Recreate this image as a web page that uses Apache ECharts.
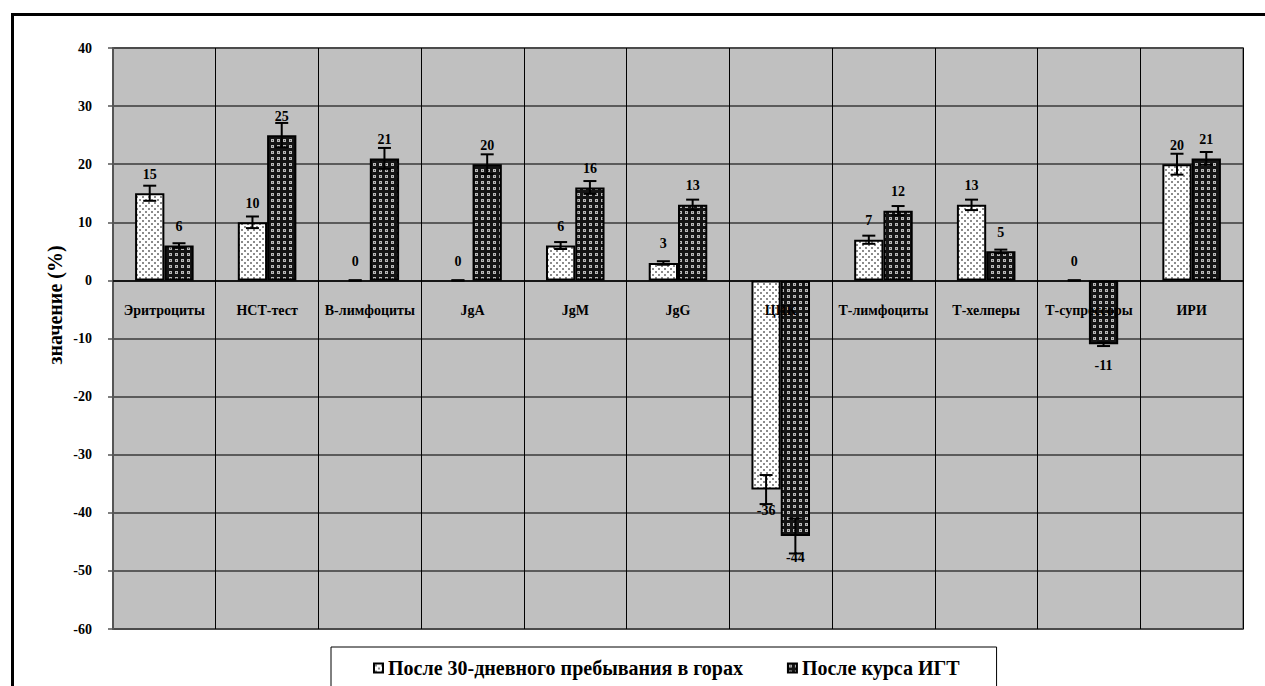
<!DOCTYPE html>
<html>
<head>
<meta charset="utf-8">
<script src="https://cdn.jsdelivr.net/npm/echarts@6/dist/echarts.min.js"></script>
<style>
html,body{margin:0;padding:0;background:#fff;}
#chart{width:1265px;height:686px;}
</style>
</head>
<body>
<div id="chart"></div>
<script>
// ---- data ----
var categories = ['Эритроциты','НСТ-тест','В-лимфоциты','JgA','JgM','JgG','ЦИК','Т-лимфоциты','Т-хелперы','Т-супрессоры','ИРИ'];
var seriesNames = ['После 30-дневного пребывания в горах','После курса ИГТ'];
var afterMountains = [15, 10, 0, 0, 6, 3, -36, 7, 13, 0, 20];
var afterMountainsErr = [1.3, 1.0, 0, 0, 0.6, 0.3, 2.5, 0.7, 0.9, 0, 1.8];
var afterIGT = [6, 25, 21, 20, 16, 13, -44, 12, 5, -11, 21];
var afterIGTErr = [0.4, 2.1, 1.8, 1.7, 1.1, 0.9, 3.0, 0.8, 0.3, 0.3, 1.1];
var yTicks = {min: -60, max: 40, interval: 10};

// ---- patterns ----
function makeTile(kind) {
  var c = document.createElement('canvas');
  c.width = 6; c.height = 6;
  var g = c.getContext('2d');
  if (kind === 'light') {
    g.fillStyle = '#ffffff'; g.fillRect(0,0,6,6);
    g.fillStyle = '#8c8c8c';
    g.fillRect(1,1,2,2); g.fillRect(4,4,2,2);
  } else {
    g.fillStyle = '#141414'; g.fillRect(0,0,6,6);
    g.fillStyle = '#b8b8b8';
    g.fillRect(1,1,3,3);
    g.fillStyle = '#505050';
    g.fillRect(2,2,1,1);
  }
  return c.toDataURL();
}
var lightPattern = {image: makeTile('light'), repeat: 'repeat'};
var darkPattern = {image: makeTile('dark'), repeat: 'repeat'};

var FONT = '"Liberation Serif", "Times New Roman", serif';
var CAT_GAP = 0.43;
var GRID = {left: 113, right: 22, top: 48, bottom: 57};
var H = 686;

function barData(vals) {
  return vals.map(function (v) {
    return v === 0 ? {value: 0, itemStyle: {borderWidth: 0}} : v;
  });
}
function errData(vals, errs) {
  return vals.map(function (v, i) { return [i, v, errs[i]]; });
}
function makeErrRender(side) {
  return function (params, api) {
    var idx = api.value(0), v = api.value(1), e = api.value(2);
    var catW = api.size([1, 0])[0];
    var barW = catW * (1 - CAT_GAP) / 2;
    var c = api.coord([idx, v]);
    var x = c[0] + side * barW / 2;
    var yHi = api.coord([idx, v + e])[1];
    var yLo = api.coord([idx, v - e])[1];
    var cap = 6.5;
    var ls = {stroke: '#000', lineWidth: 2};
    var labelY = v >= 0 ? c[1] - 19 : c[1] + 21;
    return {
      type: 'group',
      children: [
        {type: 'line', shape: {x1: x, y1: yHi, x2: x, y2: yLo}, style: ls},
        {type: 'line', shape: {x1: x - cap, y1: yHi, x2: x + cap, y2: yHi}, style: ls},
        {type: 'line', shape: {x1: x - cap, y1: yLo, x2: x + cap, y2: yLo}, style: ls},
        {type: 'text', z2: 10, style: {text: String(v), x: x, y: labelY, align: 'center', verticalAlign: 'middle',
          fill: '#000', fontSize: 14, fontWeight: 'bold', fontFamily: FONT}}
      ]
    };
  };
}

var chart = echarts.init(document.getElementById('chart'), null, {renderer: 'svg'});
// pixel position of the zero line, used to lift the category label axis
var plotH = H - GRID.top - GRID.bottom;
var zeroFromBottom = plotH * (0 - yTicks.min) / (yTicks.max - yTicks.min);

chart.setOption({
  animation: false,
  backgroundColor: '#ffffff',
  grid: {left: GRID.left, right: GRID.right, top: GRID.top, bottom: GRID.bottom, show: true, backgroundColor: '#c0c0c0',
    borderColor: '#808080', borderWidth: 2},
  legend: {
    data: seriesNames, left: 331, top: 647, orient: 'horizontal',
    padding: [11, 37, 14, 42], borderColor: '#000', borderWidth: 1, backgroundColor: '#fff',
    itemWidth: 9, itemHeight: 9, itemGap: 44, icon: 'rect',
    textStyle: {fontSize: 20, fontWeight: 'bold', fontFamily: FONT, color: '#000'}
  },
  xAxis: [
    {type: 'category', data: categories, gridIndex: 0,
      axisLine: {onZero: true, lineStyle: {color: '#000', width: 1.5}},
      axisTick: {show: false}, axisLabel: {show: false},
      splitLine: {show: true, interval: 0, lineStyle: {color: '#000', width: 1}}},
    {type: 'category', data: categories, gridIndex: 0, position: 'bottom', z: 10,
      offset: -zeroFromBottom,
      axisLine: {show: false, onZero: false},
      axisTick: {show: false}, splitLine: {show: false},
      axisLabel: {interval: 0, margin: 23, fontSize: 14, fontWeight: 'bold', fontFamily: FONT, color: '#000'}}
  ],
  yAxis: [
    {type: 'value', min: yTicks.min, max: yTicks.max, interval: yTicks.interval,
      axisLine: {show: true, lineStyle: {color: '#555', width: 2}},
      axisTick: {show: true, length: 5, lineStyle: {color: '#555', width: 1.5}},
      axisLabel: {margin: 21, fontSize: 14, fontWeight: 'bold', fontFamily: FONT, color: '#000'},
      splitLine: {show: true, lineStyle: {color: '#3a3a3a', width: 1.5}}}
  ],
  graphic: [
    {type: 'rect', left: 10, top: 12, shape: {width: 1400, height: 800},
      style: {fill: 'none', stroke: '#000', lineWidth: 3}, silent: true},
    {type: 'text', x: 55, y: 305, rotation: Math.PI / 2,
      style: {text: 'значение (%)', align: 'center', verticalAlign: 'middle', fill: '#000',
        fontSize: 20, fontWeight: 'bold', fontFamily: FONT}}
  ],
  series: [
    {name: seriesNames[0], type: 'bar', xAxisIndex: 0, yAxisIndex: 0, data: barData(afterMountains),
      barGap: '0%', barCategoryGap: (CAT_GAP * 100) + '%',
      itemStyle: {color: lightPattern, borderColor: '#000', borderWidth: 2}},
    {name: seriesNames[1], type: 'bar', xAxisIndex: 0, yAxisIndex: 0, data: barData(afterIGT),
      barGap: '0%', barCategoryGap: (CAT_GAP * 100) + '%',
      itemStyle: {color: darkPattern, borderColor: '#000', borderWidth: 2}},
    {type: 'custom', xAxisIndex: 0, yAxisIndex: 0, z: 5, clip: false,
      renderItem: makeErrRender(-1), data: errData(afterMountains, afterMountainsErr)},
    {type: 'custom', xAxisIndex: 0, yAxisIndex: 0, z: 5, clip: false,
      renderItem: makeErrRender(1), data: errData(afterIGT, afterIGTErr)}
  ]
});
</script>
</body>
</html>
